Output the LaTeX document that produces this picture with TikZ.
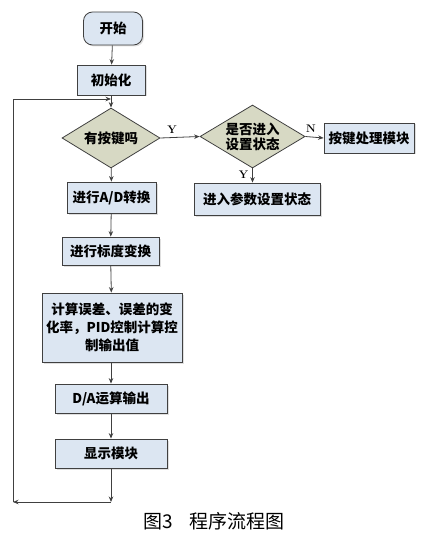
\documentclass[tikz,border=0pt]{standalone}
\usepackage{fontspec}
\newfontfamily\cjk{Noto Sans CJK SC}
\usetikzlibrary{shapes.geometric,arrows.meta,shadows}
\definecolor{boxfill}{HTML}{DCE6F2}
\definecolor{diafill}{HTML}{D7D9C4}
\definecolor{linec}{HTML}{404040}
\tikzset{
  every node/.style={font=\cjk\bfseries\fontsize{13.5}{16}\selectfont, inner sep=0pt},
  boxnode/.style={draw=linec, line width=0.8pt, fill=boxfill, minimum width=#1, drop shadow={shadow xshift=1.5pt, shadow yshift=-1.5pt, opacity=0.25}},
  dianode/.style={draw=linec, line width=0.8pt, fill=diafill, diamond, aspect=1.65},
  arr/.style={draw=linec, line width=0.8pt, -{Stealth[length=5.5pt,width=4.5pt]}},
  ln/.style={draw=linec, line width=0.8pt},
  lab/.style={font=\bfseries\fontsize{11}{13}\selectfont}
}
\begin{document}
\begin{tikzpicture}[x=1pt,y=-1pt]
\useasboundingbox (0,0) rectangle (424,540);
\node[boxnode=59pt, minimum height=33pt, rounded corners=9pt] (start) at (113,28.5) {开始};
\node[boxnode=68pt, minimum height=30pt] (init) at (111,80) {初始化};
\node[dianode, minimum width=98pt, minimum height=60pt] (d1) at (111,138) {有按键吗};
\node[dianode, minimum width=105pt, minimum height=63pt, align=center, font=\cjk\bfseries\fontsize{13.5}{15}\selectfont] (d2) at (252.5,136.5) {是否进入\\设置状态};
\node[boxnode=90pt, minimum height=30pt] (key) at (369,138) {按键处理模块};
\node[boxnode=126pt, minimum height=32pt] (param) at (257,199) {进入参数设置状态};
\node[boxnode=89pt, minimum height=31pt] (ad) at (111.5,197.5) {进行A/D转换};
\node[boxnode=97pt, minimum height=28pt] (scale) at (110.5,251) {进行标度变换};
\node[boxnode=140pt, minimum height=69pt, align=center, font=\cjk\bfseries\fontsize{13.5}{18}\selectfont] (calc) at (112,327.5) {计算误差、误差的变\\化率，PID控制计算控\\制输出值};
\node[boxnode=112pt, minimum height=29pt] (da) at (111,398.5) {D/A运算输出};
\node[boxnode=112pt, minimum height=29pt] (disp) at (111,453.5) {显示模块};
\coordinate (b1) at (111,502);
\coordinate (b2) at (13,502);
\coordinate (t1) at (13,99);
\coordinate (t2) at (111,99);
\draw[arr] (start) -- (init);
\draw[arr] (init) -- (d1);
\draw[arr] (d1.east) -- node[lab, above=4pt, pos=0.3]{Y} (d2.west);
\draw[arr] (d2.east) -- node[lab, above=4pt, pos=0.3]{N} (key.west);
\draw[arr] (d2.south) -- node[lab, left=4pt, pos=0.45]{Y} (d2.south |- param.north);
\draw[arr] (d1) -- (ad);
\draw[arr] (ad) -- (scale);
\draw[arr] (scale) -- (calc);
\draw[arr] (calc.south -| da.north) -- (da);
\draw[arr] (da) -- (disp);
\draw[arr] (disp) -- (b1);
\draw[arr] (b1) -- (b2);
\draw[ln] (b2) -- (t1);
\draw[arr] (t1) -- (t2);
\node[font=\cjk\fontsize{19}{22}\selectfont] (cap) at (214,521) {图3\hspace{0.9em}程序流程图};
\end{tikzpicture}
\end{document}
